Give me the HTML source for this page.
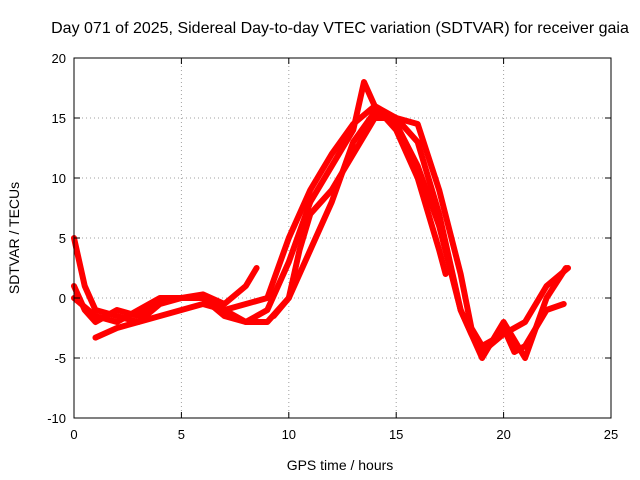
<!DOCTYPE html>
<html><head><meta charset="utf-8"><style>
body{margin:0;background:#fff;}
svg{display:block;font-family:"Liberation Sans",sans-serif;}
</style></head><body>
<svg id="chart" width="640" height="480">
<rect width="640" height="480" fill="#fff"/>
<text x="340" y="33" text-anchor="middle" font-size="16">Day 071 of 2025, Sidereal Day-to-day VTEC variation (SDTVAR) for receiver gaia</text>
<g id="grid"></g><g id="series"></g><g id="axes"></g>
<text x="340" y="470" text-anchor="middle" font-size="14">GPS time / hours</text>
<text transform="translate(19,238) rotate(-90)" text-anchor="middle" font-size="14">SDTVAR / TECUs</text>
</svg>
<script>
const xTicks=[0,5,10,15,20,25];
const yTicks=[-10,-5,0,5,10,15,20];
const track1T=[0,0.5,1,2,3,4,5,6,7,8,8.5];
const track1V=[1,-1,-2,-1,-1.5,-0.3,0,0.3,-0.5,1,2.5];
const track2T=[0,0.5,1,2,3,4,5,6,7,8,9,10,11,12,13,13.5,14,15,16,17,17.3];
const track2V=[5,1,-1,-1.5,-2,-0.5,0,0,-1.5,-2,-1,3,8,11,14,18,16,14,10,4,2];
const track3T=[1,2,3,4,5,6,7,8,9,10,11,12,13,14,15,16,17,17.5,18,18.5,19,20,21,22,23];
const track3V=[-3.3,-2.5,-2,-1.5,-1,-0.5,-1,-0.5,0,5,9,12,14.5,16,15,13,7,3,-1,-3,-4.5,-3,-2,1,2.5];
const track4T=[0,1,2,3,4,5,6,7,8,9,9.5,10,10.5,11,12,13,14,15,16,17,18,18.5,19,19.5,20,20.5,21,22,22.8];
const track4V=[0,-1.5,-2,-1,0,0,0,-1,-2,-2,-1,0,4,7,9,12,15,15,14.5,9,2,-2.5,-4,-3.5,-2.5,-4.5,-4,-1,-0.5];
const track5T=[9.3,10,11,12,13,14,15,16,17,18,19,20,21,22,22.9];
const track5V=[-1.5,0,4,8,13,15.5,14.5,11,6,-1,-5,-2,-5,0,2.5];
const tracks=[[track1T,track1V],[track2T,track2V],[track3T,track3V],[track4T,track4V],[track5T,track5V]];
const L=74,R=611,T=58,B=418;
const xs=v=>L+(v-0)/25*(R-L);
const ys=v=>B-(v+10)/30*(B-T);
const NS="http://www.w3.org/2000/svg";
function mk(tag,attrs,parent,text){const e=document.createElementNS(NS,tag);for(const k in attrs)e.setAttribute(k,attrs[k]);if(text!==undefined)e.textContent=text;parent.appendChild(e);return e;}
const grid=document.getElementById('grid'),axes=document.getElementById('axes'),ser=document.getElementById('series');
xTicks.forEach(t=>{const x=xs(t);
 if(t>0&&t<25){const g=mk('line',{x1:x,x2:x,y1:T,y2:B,stroke:'#a0a0a0','stroke-dasharray':'1,3'},grid);
 
 }
 mk('line',{x1:x,x2:x,y1:B,y2:B-6,stroke:'#000'},axes);mk('line',{x1:x,x2:x,y1:T,y2:T+6,stroke:'#000'},axes);
 const l=mk('text',{x:x,y:B+21,'text-anchor':'middle','font-size':13},axes,String(t));
 
 });
yTicks.forEach(t=>{const y=ys(t);
 if(t>-10&&t<20){const g=mk('line',{x1:L,x2:R,y1:y,y2:y,stroke:'#a0a0a0','stroke-dasharray':'1,3'},grid);
 
 }
 mk('line',{x1:L,x2:L+6,y1:y,y2:y,stroke:'#000'},axes);mk('line',{x1:R,x2:R-6,y1:y,y2:y,stroke:'#000'},axes);
 const l=mk('text',{x:L-8,y:y+5,'text-anchor':'end','font-size':13},axes,String(t));
 
 });
const fr=mk('rect',{x:L,y:T,width:R-L,height:B-T,fill:'none',stroke:'#000'},axes);


tracks.forEach((tr,i)=>{const pts=tr[0].map((t,j)=>xs(t)+','+ys(tr[1][j])).join(' ');
 const p=mk('polyline',{points:pts,fill:'none',stroke:'#ff0000','stroke-width':6,'stroke-linejoin':'round','stroke-linecap':'round'},ser);
 
 });
</script>
</body></html>
